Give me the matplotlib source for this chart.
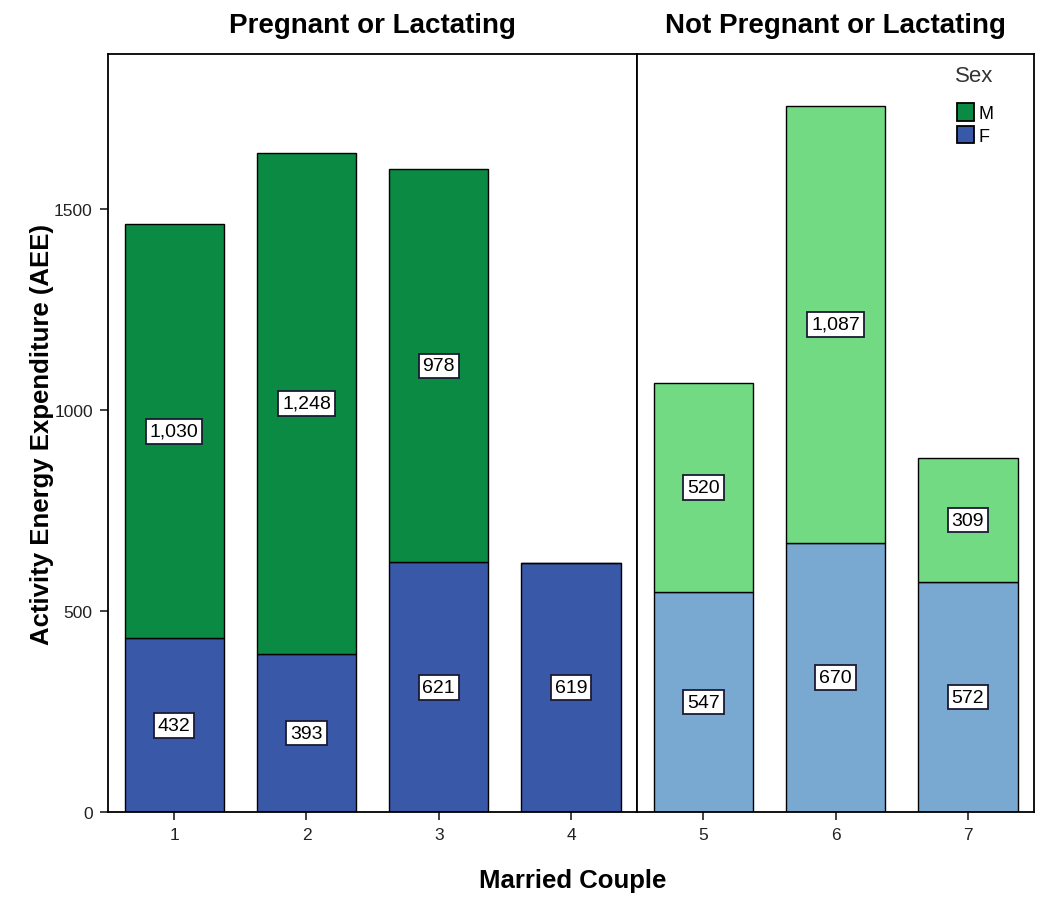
import matplotlib.pyplot as plt
import matplotlib.patches as mpatches

plt.rcParams['font.family'] = ['Liberation Sans', 'DejaVu Sans']

# data
couples_preg = [1, 2, 3, 4]
female_preg = [432, 393, 621, 619]
male_preg = [1030, 1248, 978, 0]

couples_not = [5, 6, 7]
female_not = [547, 670, 572]
male_not = [520, 1087, 309]

panel_titles = ['Pregnant or Lactating', 'Not Pregnant or Lactating']

fig = plt.figure(figsize=(10.5, 9.03), dpi=100)
gs = fig.add_gridspec(1, 2, width_ratios=[4, 3], wspace=0,
                      left=0.1029, right=0.9848, bottom=0.0997, top=0.939)
ax1 = fig.add_subplot(gs[0])
ax2 = fig.add_subplot(gs[1], sharey=ax1)


def label(ax, x, bottom, value):
    if value <= 0:
        return
    ax.text(x, bottom + value / 2, f'{value:,}', ha='center', va='center', fontsize=14,
            bbox=dict(boxstyle='square,pad=0.2', fc='white', ec='#1a1a33', lw=1.3))


def draw(ax, xs, fem, male, cf, cm):
    ax.bar(xs, fem, width=0.75, color=cf, edgecolor='black', linewidth=1)
    ax.bar(xs, male, width=0.75, bottom=fem, color=cm, edgecolor='black', linewidth=1)
    for x, f, m in zip(xs, fem, male):
        label(ax, x, 0, f)
        label(ax, x, f, m)


draw(ax1, couples_preg, female_preg, male_preg, '#3a58a8', '#0b8a43')
draw(ax2, couples_not, female_not, male_not, '#79a9d1', '#71da82')

ax1.set_xlim(0.5, 4.5)
ax2.set_xlim(4.5, 7.5)
ax1.set_ylim(0, 1886)
ax1.set_yticks([0, 500, 1000, 1500])

for ax, t in zip([ax1, ax2], panel_titles):
    ax.set_title(t, fontsize=20, fontweight='bold', pad=16)
    for s in ax.spines.values():
        s.set_linewidth(1.3)
    ax.tick_params(axis='both', labelsize=12.5, length=6, width=1.2, colors='#222222', pad=5)
ax1.set_xticks(couples_preg)
ax2.set_xticks(couples_not)
ax2.tick_params(axis='y', left=False, labelleft=False)

ax1.set_ylabel('Activity Energy Expenditure (AEE)', fontsize=18.5, fontweight='bold', labelpad=0)
fig.text(0.545, 0.017, 'Married Couple', ha='center', fontsize=18.5, fontweight='bold')

# legend: title drawn separately so the gap matches
ax2.text(0.80, 0.985, 'Sex', transform=ax2.transAxes, ha='left', va='top',
         fontsize=16, color='#333333')
handles = [mpatches.Patch(facecolor='#0b8a43', edgecolor='black', linewidth=1.3, label='M'),
           mpatches.Patch(facecolor='#3a58a8', edgecolor='black', linewidth=1.3, label='F')]
ax2.legend(handles=handles, loc='upper left', frameon=False, fontsize=13,
           handlelength=0.95, handleheight=1.1, handletextpad=0.25, labelspacing=0.2,
           borderaxespad=0, borderpad=0, bbox_to_anchor=(0.805, 0.935))

fig.savefig('out.png', dpi=100)
